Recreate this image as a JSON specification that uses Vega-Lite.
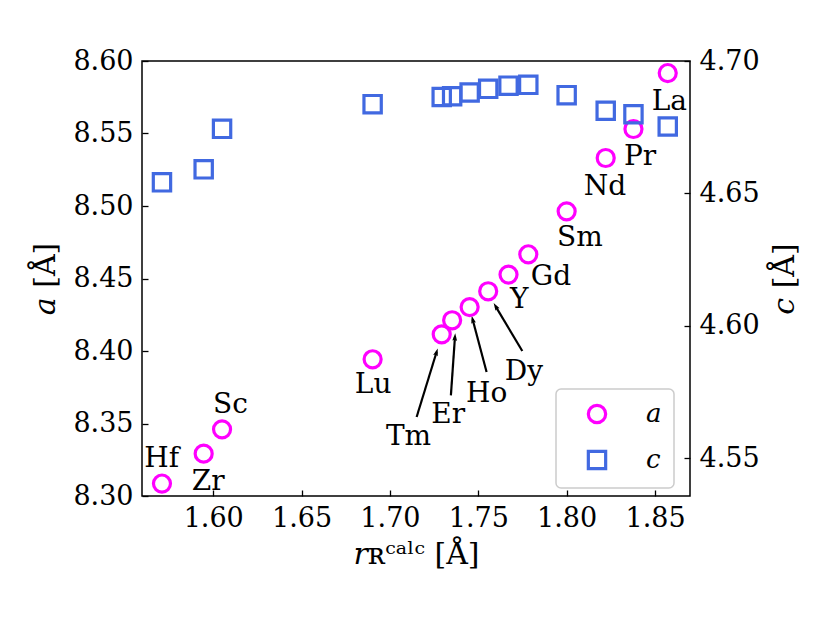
{
  "$schema": "https://vega.github.io/schema/vega-lite/v6.json",
  "width": 548,
  "height": 435,
  "autosize": "none",
  "padding": {"left": 142, "top": 61, "right": 140, "bottom": 126},
  "background": "white",
  "config": {
    "view": {"stroke": "black", "strokeWidth": 1.5},
    "axis": {
      "domain": false,
      "grid": false,
      "tickColor": "black",
      "tickSize": -6,
      "tickWidth": 1.3,
      "labelFont": "DejaVu Serif",
      "labelFontSize": 27,
      "labelColor": "black",
      "labelPadding": 15,
      "titleFont": "DejaVu Serif",
      "titleFontSize": 30,
      "titleFontWeight": "normal",
      "titleColor": "black"
    },
    "legend": {
      "orient": "none",
      "legendX": 414,
      "legendY": 328,
      "padding": 12,
      "symbolOffset": 16,
      "symbolSize": 300,
      "symbolStrokeWidth": 3.2,
      "labelFont": "DejaVu Serif",
      "labelFontStyle": "italic",
      "labelFontSize": 26,
      "labelColor": "black",
      "labelOffset": 36,
      "rowPadding": 14,
      "strokeColor": "#cccccc",
      "strokeWidth": 1.5,
      "cornerRadius": 5,
      "fillColor": "rgba(255,255,255,0.8)"
    },
    "text": {"font": "DejaVu Serif", "fontSize": 28, "color": "black"}
  },
  "datasets": {
    "elements": [
      {"el": "Hf", "r": 1.5710, "a": 8.3086, "c": 4.6542},
      {"el": "Zr", "r": 1.5946, "a": 8.3292, "c": 4.6591},
      {"el": "Sc", "r": 1.6050, "a": 8.3460, "c": 4.6744},
      {"el": "Lu", "r": 1.6902, "a": 8.3943, "c": 4.6837},
      {"el": "Tm", "r": 1.7293, "a": 8.4115, "c": 4.6864},
      {"el": "Er", "r": 1.7352, "a": 8.4212, "c": 4.6867},
      {"el": "Ho", "r": 1.7451, "a": 8.4303, "c": 4.6881},
      {"el": "Dy", "r": 1.7556, "a": 8.4412, "c": 4.6895},
      {"el": "Y", "r": 1.7671, "a": 8.4527, "c": 4.6907},
      {"el": "Gd", "r": 1.7783, "a": 8.4667, "c": 4.6910},
      {"el": "Sm", "r": 1.8000, "a": 8.4963, "c": 4.6871},
      {"el": "Nd", "r": 1.8221, "a": 8.5331, "c": 4.6812},
      {"el": "Pr", "r": 1.8378, "a": 8.5531, "c": 4.6799},
      {"el": "La", "r": 1.8572, "a": 8.5917, "c": 4.6753}
    ],
    "labels": [
      {"el": "Hf", "lx": 1.5708, "ly": 8.3258},
      {"el": "Zr", "lx": 1.5972, "ly": 8.3097},
      {"el": "Sc", "lx": 1.6098, "ly": 8.3626},
      {"el": "Lu", "lx": 1.6905, "ly": 8.3763},
      {"el": "Tm", "lx": 1.7105, "ly": 8.3407},
      {"el": "Er", "lx": 1.7330, "ly": 8.3557},
      {"el": "Ho", "lx": 1.7547, "ly": 8.3706},
      {"el": "Dy", "lx": 1.7758, "ly": 8.3855},
      {"el": "Y", "lx": 1.7732, "ly": 8.4354},
      {"el": "Gd", "lx": 1.7911, "ly": 8.4510},
      {"el": "Sm", "lx": 1.8075, "ly": 8.4782},
      {"el": "Nd", "lx": 1.8217, "ly": 8.5131},
      {"el": "Pr", "lx": 1.8415, "ly": 8.5338},
      {"el": "La", "lx": 1.8581, "ly": 8.5717}
    ],
    "arrows": [
      {"el": "Tm", "x": 1.7151, "y": 8.3545, "x2": 1.7264, "y2": 8.3993},
      {"el": "Er", "x": 1.7345, "y": 8.3694, "x2": 1.7368, "y2": 8.4097},
      {"el": "Ho", "x": 1.7547, "y": 8.3855, "x2": 1.7468, "y2": 8.4217},
      {"el": "Dy", "x": 1.7749, "y": 8.4000, "x2": 1.7598, "y2": 8.4308}
    ]
  },
  "layer": [
    {
      "layer": [
        {
          "data": {"name": "arrows"},
          "mark": {"type": "rule", "color": "black", "strokeWidth": 2.2},
          "encoding": {
            "x": {"field": "x", "type": "quantitative", "scale": {"domain": [1.5597, 1.8698], "nice": false, "zero": false}, "title": "𝑟ʀᶜᵃˡᶜ [Å]", "axis": {"values": [1.6, 1.65, 1.7, 1.75, 1.8, 1.85], "format": ".2f", "titlePadding": 8}},
            "y": {"field": "y", "type": "quantitative", "scale": {"domain": [8.3, 8.6], "nice": false, "zero": false}, "title": "𝑎 [Å]", "axis": {"values": [8.3, 8.35, 8.4, 8.45, 8.5, 8.55, 8.6], "format": ".2f", "titlePadding": 12}},
            "x2": {"field": "x2"},
            "y2": {"field": "y2"}
          }
        },
        {
          "data": {"name": "arrows"},
          "transform": [
            {"calculate": "atan2((datum.x2 - datum.x) * 1767, (datum.y2 - datum.y) * 1450) * 180 / PI", "as": "ang"}
          ],
          "mark": {"type": "point", "shape": "M0,-0.6 L0.38,0.6 L0,0.4 L-0.38,0.6 Z", "filled": true, "color": "black", "size": 160, "opacity": 1},
          "encoding": {
            "x": {"field": "x2", "type": "quantitative"},
            "y": {"field": "y2", "type": "quantitative"},
            "angle": {"field": "ang", "type": "quantitative", "scale": null}
          }
        },
        {
          "data": {"name": "elements"},
          "mark": {"type": "point", "filled": false, "size": 290, "strokeWidth": 3.2, "opacity": 1},
          "encoding": {
            "x": {"field": "r", "type": "quantitative"},
            "y": {"field": "a", "type": "quantitative"},
            "color": {"datum": "a", "scale": {"domain": ["a", "c"], "range": ["#ff00ff", "#4169e1"]}, "legend": {"title": null}},
            "shape": {"datum": "a", "scale": {"domain": ["a", "c"], "range": ["circle", "square"]}, "legend": {"title": null}}
          }
        },
        {
          "data": {"name": "labels"},
          "mark": {"type": "text", "align": "center", "baseline": "middle"},
          "encoding": {
            "x": {"field": "lx", "type": "quantitative"},
            "y": {"field": "ly", "type": "quantitative"},
            "text": {"field": "el"}
          }
        }
      ]
    },
    {
      "data": {"name": "elements"},
      "mark": {"type": "point", "filled": false, "size": 300, "strokeWidth": 3.2, "opacity": 1},
      "encoding": {
        "x": {"field": "r", "type": "quantitative"},
        "y": {"field": "c", "type": "quantitative", "scale": {"domain": [4.5358, 4.7], "nice": false, "zero": false}, "title": "𝑐 [Å]", "axis": {"orient": "right", "values": [4.55, 4.6, 4.65, 4.7], "format": ".2f", "titleAngle": 270, "titlePadding": 40}},
        "color": {"datum": "c"},
        "shape": {"datum": "c"}
      }
    }
  ],
  "resolve": {"scale": {"y": "independent"}}
}
